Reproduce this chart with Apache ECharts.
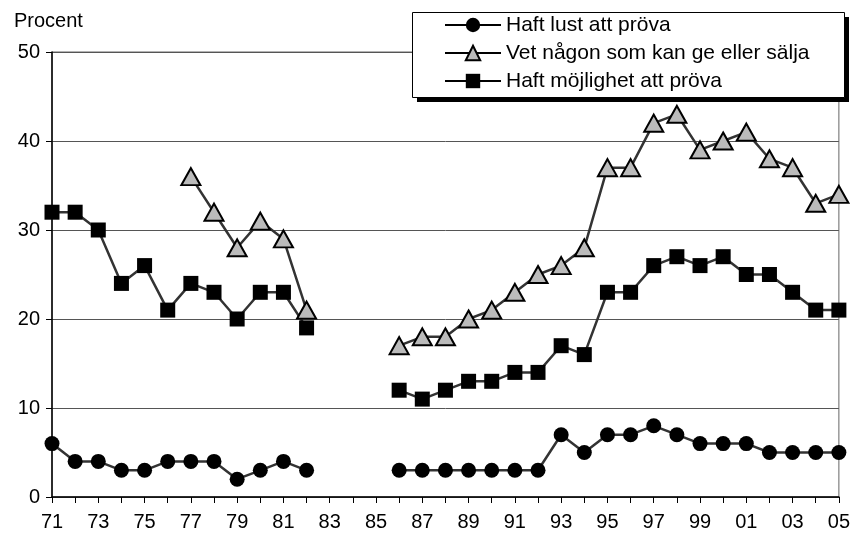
<!DOCTYPE html>
<html>
<head>
<meta charset="utf-8">
<script src="https://cdn.jsdelivr.net/npm/echarts@6/dist/echarts.min.js"></script>
<style>
  html, body { margin: 0; padding: 0; background: #fff; }
  #chart { width: 853px; height: 539px; }
</style>
</head>
<body>
<div id="chart"></div>
<script>
// years 1971..2005, shown as two-digit labels
let years = ['71','72','73','74','75','76','77','78','79','80','81','82','83','84','85',
    '86','87','88','89','90','91','92','93','94','95','96','97','98','99','00','01','02','03','04','05'];

let lustData = [6, 4, 4, 3, 3, 4, 4, 4, 2, 3, 4, 3, null, null, null,
    3, 3, 3, 3, 3, 3, 3, 7, 5, 7, 7, 8, 7, 6, 6, 6, 5, 5, 5, 5];

let vetData = [null, null, null, null, null, null, 36, 32, 28, 31, 29, 21, null, null, null,
    17, 18, 18, 20, 21, 23, 25, 26, 28, 37, 37, 42, 43, 39, 40, 41, 38, 37, 33, 34];

let mojlighetData = [32, 32, 30, 24, 26, 21, 24, 23, 20, 23, 23, 19, null, null, null,
    12, 11, 12, 13, 13, 14, 14, 17, 16, 23, 23, 26, 27, 26, 27, 25, 25, 23, 21, 21];

let seriesNames = ['Haft lust att pröva', 'Vet någon som kan ge eller sälja', 'Haft möjlighet att pröva'];

let font = 'Liberation Sans, Arial, Helvetica, sans-serif';
let myChart = echarts.init(document.getElementById('chart'));

function makeSeries(name, data, symbol, size, fill) {
    return {
        name: name,
        type: 'line',
        data: data,
        symbol: symbol,
        symbolSize: size,
        showAllSymbol: true,
        connectNulls: false,
        lineStyle: { color: '#333', width: 2.5 },
        itemStyle: { color: fill, borderColor: '#000', borderWidth: symbol === 'triangle' ? 2 : 0 },
        emphasis: { disabled: true }
    };
}

let option = {
    animation: false,
    textStyle: { fontFamily: font },
    grid: {
        left: 52, right: 13, top: 52, bottom: 42,
        show: true, borderColor: '#666', borderWidth: 1
    },
    graphic: [
        {
            type: 'text', left: 14, top: 11,
            style: { text: 'Procent', fontSize: 20, fontFamily: font, fill: '#000' }
        },
        // legend box with a hard black drop shadow
        {
            type: 'rect', left: 417, top: 17, z: 50,
            shape: { width: 432, height: 85 },
            style: { fill: '#000' }
        },
        {
            type: 'rect', left: 412, top: 12, z: 51,
            shape: { width: 432, height: 85 },
            style: { fill: '#fff', stroke: '#000', lineWidth: 1 }
        }
    ],
    legend: {
        orient: 'vertical',
        left: 444, top: 14,
        padding: 0,
        z: 60,
        itemGap: 6,
        itemWidth: 56, itemHeight: 18,
        lineStyle: { color: '#000', width: 2 },
        textStyle: { fontSize: 21, lineHeight: 22, color: '#000', fontFamily: font },
        data: seriesNames
    },
    xAxis: {
        type: 'category',
        data: years,
        boundaryGap: false,
        axisLine: { lineStyle: { color: '#000', width: 1.5 } },
        axisTick: { interval: 0, length: 6, lineStyle: { color: '#000' } },
        axisLabel: { interval: 1, fontSize: 20, color: '#000', margin: 15 },
        splitLine: { show: false }
    },
    yAxis: {
        type: 'value',
        min: 0, max: 50, interval: 10,
        axisLine: { show: true, lineStyle: { color: '#000', width: 1.5 } },
        axisTick: { show: true, length: 6, lineStyle: { color: '#000' } },
        axisLabel: { fontSize: 20, color: '#000', margin: 12 },
        splitLine: { lineStyle: { color: '#555', width: 1 } }
    },
    series: [
        makeSeries(seriesNames[0], lustData, 'circle', 15, '#000'),
        makeSeries(seriesNames[1], vetData, 'triangle', [19, 17], '#bbb'),
        makeSeries(seriesNames[2], mojlighetData, 'rect', 15, '#000')
    ]
};

myChart.setOption(option);
</script>
</body>
</html>
